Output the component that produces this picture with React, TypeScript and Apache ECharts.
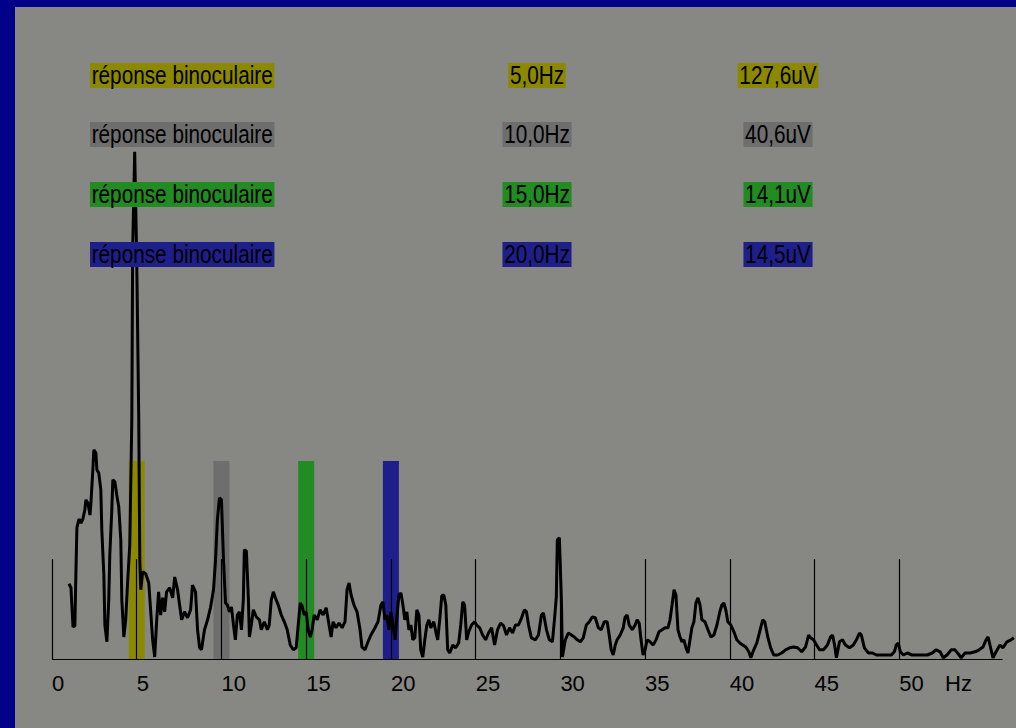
import React, { useEffect, useRef } from 'react';
import * as echarts from 'echarts';

// ---- data ----
const tickValues = [0, 5, 10, 15, 20, 25, 30, 35, 40, 45, 50];
const axisUnit = 'Hz';
const xMax = 56.71;
const axisEnd = 56.1;
const yMax = 162.5;
const tickLineHeight = 25;

const bandFreqs = [5, 10, 15, 20];
const bandHeight = 49.5;
const bandColors = ['#8c8900', '#6e6e6e', '#228b22', '#1f1f8c'];

const rowLabels = ['réponse binoculaire', 'réponse binoculaire', 'réponse binoculaire', 'réponse binoculaire'];
const freqLabels = ['5,0Hz', '10,0Hz', '15,0Hz', '20,0Hz'];
const ampLabels = ['127,6uV', '40,6uV', '14,1uV', '14,5uV'];

const spectrum: [number, number][] = [
  [1.0, 18.8], [1.12, 17.8], [1.24, 8.0], [1.35, 8.3], [1.41, 21.3], [1.47, 32.8], [1.59, 35.0], [1.71, 34.0],
  [1.82, 35.0], [1.94, 37.3], [2.0, 39.8], [2.12, 39.0], [2.24, 36.0], [2.29, 38.5], [2.41, 47.3], [2.47, 52.3],
  [2.59, 51.5], [2.65, 47.3], [2.76, 46.5], [2.88, 42.3], [2.94, 32.3], [3.06, 21.0], [3.12, 8.5], [3.24, 4.3],
  [3.35, 14.8], [3.41, 26.0], [3.53, 37.3], [3.59, 44.8], [3.71, 44.3], [3.82, 41.0], [3.94, 38.0], [4.06, 29.8],
  [4.12, 14.8], [4.24, 5.5], [4.35, 9.8], [4.47, 19.8], [4.59, 28.5], [4.71, 59.8], [4.76, 102.3], [4.88, 126.8],
  [5.0, 99.8], [5.12, 59.8], [5.18, 24.8], [5.24, 17.3], [5.35, 21.8], [5.53, 21.3], [5.71, 19.0], [5.82, 12.3],
  [5.94, 4.8], [6.06, 0.5], [6.18, 9.8], [6.29, 16.8], [6.41, 11.0], [6.53, 15.3], [6.65, 11.8], [6.76, 16.8],
  [6.94, 17.8], [7.12, 15.3], [7.24, 20.5], [7.41, 17.3], [7.53, 13.5], [7.65, 9.8], [7.82, 11.8], [8.0, 10.3],
  [8.18, 12.3], [8.29, 18.5], [8.47, 16.8], [8.59, 7.3], [8.71, 2.8], [8.82, 2.3], [9.0, 7.3], [9.18, 9.8],
  [9.35, 12.8], [9.53, 17.3], [9.65, 24.8], [9.76, 34.8], [9.88, 40.3], [10.0, 39.8], [10.12, 24.8], [10.24, 14.0],
  [10.35, 13.5], [10.47, 11.8], [10.59, 13.0], [10.71, 8.5], [10.82, 4.8], [10.94, 11.0], [11.06, 11.8], [11.18, 7.3],
  [11.29, 14.8], [11.35, 27.3], [11.47, 27.0], [11.59, 14.8], [11.65, 5.5], [11.76, 8.5], [11.88, 12.3], [12.06, 10.5],
  [12.24, 9.8], [12.35, 7.3], [12.53, 9.3], [12.71, 7.3], [12.82, 8.5], [12.94, 14.8], [13.06, 16.8], [13.18, 15.3],
  [13.35, 13.5], [13.53, 11.0], [13.71, 9.3], [13.88, 7.3], [14.06, 3.5], [14.24, 2.3], [14.41, 2.8], [14.53, 8.5],
  [14.65, 14.0], [14.76, 13.3], [14.88, 11.0], [15.0, 11.8], [15.12, 7.3], [15.24, 5.5], [15.35, 7.3], [15.47, 11.0],
  [15.65, 9.8], [15.82, 12.3], [16.0, 11.0], [16.18, 12.8], [16.35, 8.5], [16.47, 5.5], [16.59, 9.3], [16.76, 7.8],
  [16.94, 9.0], [17.12, 7.8], [17.29, 9.3], [17.41, 17.3], [17.53, 19.0], [17.65, 16.0], [17.82, 13.5], [18.0, 11.8],
  [18.18, 7.3], [18.29, 3.0], [18.47, 2.3], [18.65, 4.3], [18.82, 6.0], [19.06, 7.8], [19.24, 9.3], [19.41, 13.5],
  [19.53, 14.3], [19.65, 9.8], [19.76, 11.0], [19.88, 7.3], [20.0, 11.8], [20.12, 8.5], [20.24, 4.8], [20.35, 10.3],
  [20.47, 16.0], [20.59, 16.5], [20.71, 13.5], [20.82, 9.8], [20.94, 11.8], [21.06, 7.3], [21.18, 8.5], [21.29, 4.8],
  [21.41, 5.3], [21.53, 12.3], [21.65, 11.0], [21.76, 2.3], [21.88, 0.5], [22.0, 4.8], [22.12, 8.5], [22.24, 9.8],
  [22.35, 7.8], [22.53, 9.3], [22.65, 6.8], [22.76, 4.8], [22.88, 9.8], [23.0, 15.8], [23.12, 16.0], [23.24, 13.5],
  [23.35, 2.3], [23.47, 1.5], [23.65, 3.5], [23.82, 2.8], [24.0, 4.0], [24.12, 8.5], [24.24, 14.3], [24.35, 13.5],
  [24.47, 4.8], [24.59, 6.8], [24.76, 8.5], [24.94, 9.3], [25.06, 8.5], [25.24, 7.8], [25.41, 6.0], [25.59, 4.8],
  [25.76, 6.5], [25.94, 7.8], [26.12, 3.5], [26.29, 7.3], [26.47, 9.0], [26.65, 8.3], [26.82, 6.0], [27.0, 7.8],
  [27.18, 6.5], [27.35, 8.5], [27.53, 8.5], [27.71, 10.3], [27.88, 12.3], [28.0, 11.8], [28.12, 8.5], [28.29, 5.3],
  [28.53, 4.8], [28.71, 6.0], [28.88, 11.0], [29.0, 11.5], [29.18, 7.3], [29.35, 4.8], [29.53, 4.3], [29.65, 9.8],
  [29.76, 15.5], [29.82, 29.8], [29.94, 30.3], [30.06, 14.8], [30.12, 0.5], [30.29, 4.8], [30.47, 6.5], [30.65, 6.0],
  [30.82, 5.5], [31.0, 4.8], [31.18, 4.3], [31.35, 5.3], [31.53, 8.5], [31.71, 9.3], [31.88, 10.5], [32.06, 10.3],
  [32.24, 7.8], [32.41, 7.3], [32.59, 9.3], [32.76, 9.3], [32.88, 6.0], [33.0, 2.3], [33.12, 1.0], [33.24, 3.5],
  [33.35, 4.8], [33.53, 6.0], [33.71, 7.8], [33.82, 10.5], [33.94, 11.0], [34.06, 8.5], [34.24, 7.3], [34.41, 8.5],
  [34.53, 9.8], [34.65, 9.0], [34.76, 4.8], [34.88, 1.0], [35.0, 2.3], [35.12, 4.8], [35.29, 4.3], [35.47, 3.5],
  [35.65, 4.8], [35.82, 6.8], [36.0, 7.3], [36.18, 7.8], [36.35, 7.8], [36.47, 9.8], [36.59, 13.5], [36.71, 17.3],
  [36.82, 16.0], [36.94, 7.3], [37.06, 5.5], [37.18, 4.3], [37.29, 4.8], [37.41, 2.8], [37.53, 1.5], [37.65, 4.8],
  [37.76, 7.8], [37.88, 9.3], [38.0, 14.0], [38.12, 15.3], [38.24, 13.5], [38.35, 9.8], [38.53, 9.3], [38.71, 7.3],
  [38.88, 5.5], [39.06, 6.0], [39.24, 8.5], [39.41, 11.8], [39.53, 13.5], [39.65, 14.0], [39.76, 12.3], [39.88, 9.3],
  [40.06, 8.5], [40.24, 6.8], [40.41, 4.8], [40.59, 4.0], [40.76, 3.5], [40.94, 3.0], [41.12, 1.8], [41.24, 0.3],
  [41.41, 2.3], [41.59, 4.0], [41.76, 6.8], [41.94, 9.8], [42.06, 9.3], [42.24, 5.5], [42.41, 2.8], [42.59, 1.0],
  [42.82, 1.0], [43.06, 1.5], [43.29, 2.3], [43.53, 2.8], [43.76, 3.0], [44.0, 2.8], [44.24, 1.8], [44.47, 3.0],
  [44.65, 6.0], [44.76, 5.3], [44.94, 4.8], [45.12, 3.5], [45.29, 2.3], [45.53, 2.3], [45.76, 3.5], [45.94, 5.5],
  [46.06, 6.0], [46.18, 3.5], [46.29, 0.3], [46.47, 4.3], [46.65, 4.8], [46.82, 3.5], [47.06, 2.8], [47.29, 3.5],
  [47.47, 4.8], [47.65, 6.5], [47.76, 6.0], [47.94, 2.8], [48.18, 1.5], [48.41, 1.5], [48.65, 1.0], [48.94, 1.0],
  [49.24, 1.0], [49.53, 1.0], [49.71, 1.8], [49.82, 3.5], [49.94, 4.0], [50.06, 1.8], [50.24, 1.0], [50.47, 1.5],
  [50.76, 1.0], [51.06, 1.0], [51.35, 1.0], [51.65, 1.0], [51.94, 1.5], [52.18, 2.3], [52.41, 1.8], [52.59, 0.3],
  [52.82, 1.0], [53.06, 2.3], [53.29, 2.3], [53.53, 1.0], [53.65, 0.3], [53.88, 1.5], [54.18, 1.5], [54.47, 1.8],
  [54.71, 2.3], [54.94, 3.0], [55.12, 4.8], [55.24, 5.5], [55.35, 3.5], [55.53, 0.3], [55.71, 1.8], [55.94, 3.5],
  [56.12, 2.8], [56.35, 4.3], [56.59, 4.8], [56.76, 5.3],
];

const BLUE = '#000088';
const GRAY = '#878783';
const LABEL_FONT = '25px "Liberation Sans", Arial, sans-serif';

export default function App() {
  const ref = useRef<HTMLDivElement>(null);

  useEffect(() => {
    if (!ref.current) return;
    const chart = echarts.init(ref.current, undefined, { renderer: 'svg' });

    const rowTops = [63, 122, 182, 242];
    const mkText = (text: string, x: number, y: number, align: string, bg: string) => ({
      type: 'text',
      x,
      y,
      scaleX: 0.83,
      z: 10,
      style: {
        text,
        font: LABEL_FONT,
        fill: '#000',
        backgroundColor: bg,
        padding: [0, 2],
        lineHeight: 25,
        align,
        verticalAlign: 'top',
      },
    });

    const graphics: any[] = [
      { type: 'rect', shape: { x: 0, y: 0, width: 1016, height: 7 }, style: { fill: BLUE }, z: 20 },
      { type: 'rect', shape: { x: 0, y: 0, width: 15, height: 728 }, style: { fill: BLUE }, z: 20 },
      {
        type: 'text',
        x: 945,
        y: 683,
        z: 10,
        style: { text: axisUnit, font: '22px "Liberation Sans", Arial, sans-serif', fill: '#000', align: 'left', verticalAlign: 'middle' },
      },
    ];
    rowLabels.forEach((t, i) => {
      graphics.push(mkText(t, 90, rowTops[i], 'left', bandColors[i]));
      graphics.push(mkText(freqLabels[i], 537, rowTops[i], 'center', bandColors[i]));
      graphics.push(mkText(ampLabels[i], 778, rowTops[i], 'center', bandColors[i]));
    });

    const tickLines = tickValues.map((v) => [{ coord: [v, 0] }, { coord: [v, tickLineHeight] }]);
    const baseLine = [{ coord: [0, 0] }, { coord: [axisEnd, 0] }];

    chart.setOption({
      animation: false,
      backgroundColor: GRAY,
      grid: { left: 52, right: 0, top: 9, bottom: 69, containLabel: false },
      xAxis: {
        type: 'value',
        min: 0,
        max: xMax,
        interval: 5,
        axisLine: { show: false },
        axisTick: { show: false },
        splitLine: { show: false },
        axisLabel: {
          show: true,
          margin: 24,
          align: 'left',
          verticalAlign: 'middle',
          color: '#000',
          fontSize: 22,
          fontFamily: '"Liberation Sans", Arial, sans-serif',
          formatter: (v: number) => (tickValues.includes(v) ? String(v) : ''),
        },
      },
      yAxis: { type: 'value', min: 0, max: yMax, show: false },
      graphic: graphics,
      series: [
        {
          type: 'bar',
          z: 1,
          barWidth: 16,
          silent: true,
          data: bandFreqs.map((f, i) => ({ value: [f, bandHeight], itemStyle: { color: bandColors[i] } })),
        },
        {
          type: 'line',
          z: 3,
          symbol: 'none',
          showSymbol: false,
          clip: true,
          silent: true,
          lineStyle: { color: '#000', width: 3 },
          data: spectrum,
          markLine: {
            silent: true,
            symbol: ['none', 'none'],
            label: { show: false },
            lineStyle: { color: '#000', width: 1.2, type: 'solid' },
            data: [...tickLines, baseLine],
          },
        },
      ],
    });

    return () => chart.dispose();
  }, []);

  return <div ref={ref} style={{ position: 'fixed', left: 0, top: 0, width: 1016, height: 728 }} />;
}
